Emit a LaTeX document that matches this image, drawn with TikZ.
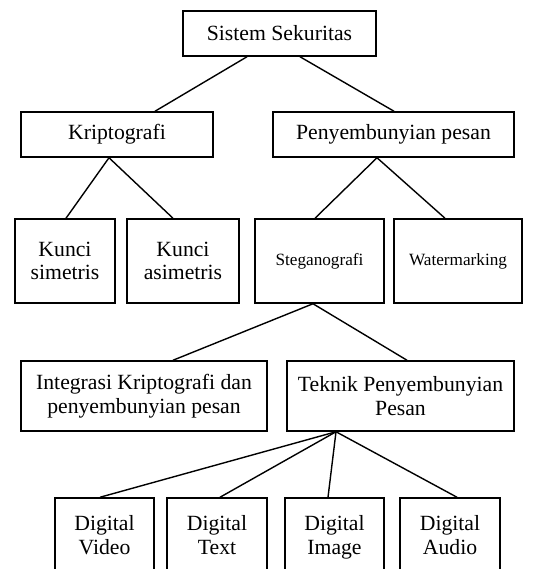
\documentclass[tikz,border=0pt]{standalone}
\usepackage{fontspec}
\setmainfont{Liberation Serif}
\begin{document}
\begin{tikzpicture}[x=1pt,y=-1pt,
  box/.style={draw=black, line width=1.5pt, inner sep=0pt, align=center,
    font=\fontsize{21.7}{23.4}\selectfont},
  smallbox/.style={box, font=\fontsize{17.2}{20}\selectfont},
  link/.style={draw=black, line width=1.4pt}]
\useasboundingbox (0,0) rectangle (538,569);
% level 0
\node[box, minimum width=193pt, minimum height=45pt] (ss) at (279.5,33.5) {Sistem Sekuritas};
% level 1
\node[box, minimum width=192pt, minimum height=45pt] (kr) at (117,134.5) {Kriptografi};
\node[box, minimum width=241pt, minimum height=45pt] (pp) at (393.5,134.5) {Penyembunyian pesan};
% level 2
\node[box, minimum width=100pt, minimum height=84pt] (ks) at (65,261) {Kunci\\simetris};
\node[box, minimum width=112pt, minimum height=84pt] (ka) at (183,261) {Kunci\\asimetris};
\node[smallbox, minimum width=129pt, minimum height=84pt] (st) at (319.5,261) {Steganografi};
\node[smallbox, minimum width=128pt, minimum height=84pt] (wm) at (458,261) {Watermarking};
% level 3
\node[box, minimum width=246pt, minimum height=70pt] (ig) at (144,396) {Integrasi Kriptografi dan\\penyembunyian pesan};
\node[box, minimum width=227pt, minimum height=70pt] (tp) at (400.5,396) {Teknik Penyembunyian\\Pesan};
% level 4 (cut off at bottom)
\node[box, minimum width=99pt, minimum height=74pt] (dv) at (104.5,535) {Digital\\Video};
\node[box, minimum width=100pt, minimum height=74pt] (dt) at (217,535) {Digital\\Text};
\node[box, minimum width=99pt, minimum height=74pt] (di) at (334.5,535) {Digital\\\smash{Image}};
\node[box, minimum width=100pt, minimum height=74pt] (da) at (450,535) {Digital\\Audio};
% connectors
\draw[link] ([xshift=-32.5pt]ss.south) -- ([xshift=38pt]kr.north);
\draw[link] ([xshift=20.5pt]ss.south) -- ([xshift=0.5pt]pp.north);
\draw[link] ([xshift=-8pt]kr.south) -- ([xshift=1pt]ks.north);
\draw[link] ([xshift=-8pt]kr.south) -- ([xshift=-10pt]ka.north);
\draw[link] ([xshift=-16.5pt]pp.south) -- ([xshift=-4.5pt]st.north);
\draw[link] ([xshift=-16.5pt]pp.south) -- ([xshift=-13pt]wm.north);
\draw[link] ([xshift=-6.5pt]st.south) -- ([xshift=29pt]ig.north);
\draw[link] ([xshift=-6.5pt]st.south) -- ([xshift=6.5pt]tp.north);
\draw[link] ([xshift=-64.5pt]tp.south) -- ([xshift=-4.5pt]dv.north);
\draw[link] ([xshift=-64.5pt]tp.south) -- ([xshift=3pt]dt.north);
\draw[link] ([xshift=-64.5pt]tp.south) -- ([xshift=-6.5pt]di.north);
\draw[link] ([xshift=-64.5pt]tp.south) -- ([xshift=7pt]da.north);
\end{tikzpicture}
\end{document}
